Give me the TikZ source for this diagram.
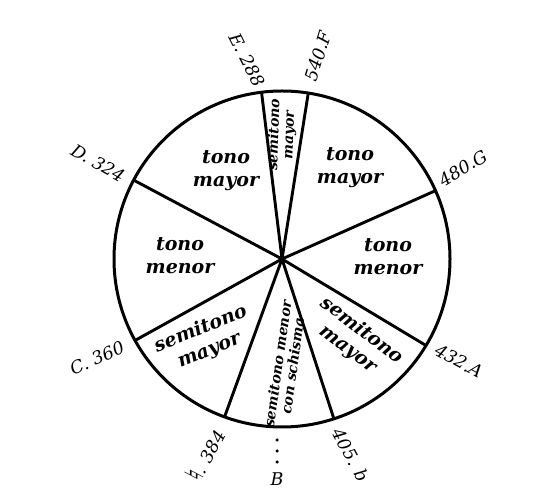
\documentclass[tikz,border=0pt]{standalone}
\usepackage{fontspec}
\setmainfont{DejaVu Serif}
\newfontfamily\symfont{DejaVu Sans}
\usetikzlibrary{calc}
\begin{document}
\begin{tikzpicture}[x=1pt,y=1pt,
  spoke/.style={line width=2.9pt},
  rim/.style={circle, draw, line width=3pt, minimum size=336pt, inner sep=0pt, outer sep=0pt},
  big/.style={font=\fontsize{19}{23}\selectfont\bfseries\itshape, align=center, inner sep=0pt},
  small/.style={font=\fontsize{14}{15}\selectfont\bfseries\itshape, align=center, inner sep=0pt},
  note/.style={font=\fontsize{17.5}{19}\selectfont\itshape, inner sep=0pt},
  dotmark/.style={fill=black, inner sep=0pt, minimum size=3.5pt, circle},
]
\useasboundingbox[fill=white] (0,0) rectangle (537,502);
\coordinate (O) at (282,243);
\node[rim] (rimc) at (O) {};
% spokes
\draw[spoke] (O) -- (rimc.97.9);
\draw[spoke] (O) -- (rimc.81.4);
\draw[spoke] (O) -- (rimc.24.9);
\draw[spoke] (O) -- (rimc.-31.6);
\draw[spoke] (O) -- (rimc.-72);
\draw[spoke] (O) -- (rimc.-110.4);
\draw[spoke] (O) -- (rimc.-151.6);
\draw[spoke] (O) -- (rimc.152.7);
% outer labels
\node[note, rotate=-63] (lE) at (247,442) {E. 288};
\node[note, rotate=73] (lF) at (318,446) {540.F};
\node[note, rotate=31] (lG) at (463,334) {480.G};
\node[note, rotate=-29] (lA) at (459,141) {432.A};
\node[note, rotate=-62] (lb) at (351,47) {405. b};
\node[note, rotate=62] (lH) at (205,47) {{\symfont\upshape\fontsize{26}{26}\selectfont ♮}. 384};
\node[note] (lB) at (277,23) {B};
\node[dotmark] (d1) at (277,62) {};
\node[dotmark] (d2) at (277,51) {};
\node[dotmark] (d3) at (277,40) {};
\node[note, rotate=24] (lC) at (97,144) {C. 360};
\node[note, rotate=-30] (lD) at (98,339) {D. 324};
% slice texts
\node[big] (sDE) at (226,331) {tono\\mayor};
\node[big] (sFG) at (350,334) {tono\\mayor};
\node[big] (sCD) at (180,246) {tono\\menor};
\node[big] (sGA) at (388,245) {tono\\menor};
\node[big, rotate=22] (sHC) at (205,162) {semitono\\mayor};
\node[big, rotate=-37] (sAb) at (355,162) {semitono\\mayor};
\node[small, rotate=82] (sbH) at (285,137) {semitono menor\\con schisma};
\node[small, rotate=88] (sEF) at (282,367) {semitono\\mayor};
\end{tikzpicture}
\end{document}
